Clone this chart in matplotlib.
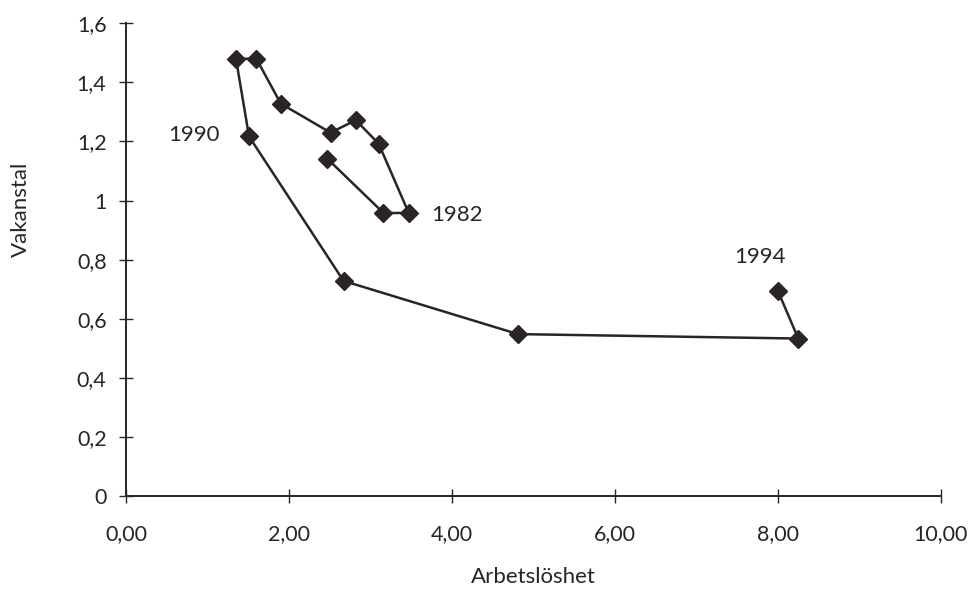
import matplotlib
matplotlib.use('Agg')
import matplotlib.pyplot as plt

# Beveridge curve data, Sweden 1981-1994
arbetsloshet = [2.47, 3.16, 3.47, 3.10, 2.82, 2.51, 1.90, 1.60, 1.35, 1.51, 2.67, 4.81, 8.25, 8.00]
vakanstal = [1.142, 0.958, 0.958, 1.193, 1.272, 1.230, 1.328, 1.480, 1.480, 1.217, 0.728, 0.548, 0.533, 0.694]

year_labels = ['1982', '1990', '1994']
label_x = [4.06, 0.83, 7.78]
label_y = [0.952, 1.223, 0.81]

x_ticks = [0, 2, 4, 6, 8, 10]
x_ticklabels = ['0,00', '2,00', '4,00', '6,00', '8,00', '10,00']
y_ticks = [0, 0.2, 0.4, 0.6, 0.8, 1.0, 1.2, 1.4, 1.6]
y_ticklabels = ['0', '0,2', '0,4', '0,6', '0,8', '1', '1,2', '1,4', '1,6']

plt.rcParams['font.family'] = ['Lato', 'DejaVu Sans']
ink = '#2b2424'

fig = plt.figure(figsize=(9.69, 5.9), dpi=100)
ax = fig.add_axes([0.130, 0.1593, 0.841, 0.8012])

ax.plot(arbetsloshet, vakanstal, color=ink, linewidth=1.8,
        marker='D', markersize=8.8, markerfacecolor=ink, markeredgecolor=ink)

for txt, lx, ly in zip(year_labels, label_x, label_y):
    ax.text(lx, ly, txt, fontsize=16, color=ink, ha='center', va='center')

ax.set_xlim(0, 10)
ax.set_ylim(0, 1.6)
ax.set_xticks(x_ticks)
ax.set_xticklabels(x_ticklabels)
ax.set_yticks(y_ticks)
ax.set_yticklabels(y_ticklabels)

for side in ['top', 'right']:
    ax.spines[side].set_visible(False)
for side in ['left', 'bottom']:
    ax.spines[side].set_linewidth(1.4)
    ax.spines[side].set_color(ink)

ax.tick_params(direction='inout', length=10, width=1, colors=ink, labelsize=15.5)
ax.tick_params(axis='y', pad=9)
ax.tick_params(axis='x', pad=15)

ax.set_xlabel('Arbetslöshet', fontsize=16, color=ink, va='center')
ax.xaxis.set_label_coords(0.5, -0.171)
ax.set_ylabel('Vakanstal', fontsize=16, color=ink, va='center')
ax.yaxis.set_label_coords(-0.129, 0.606)

fig.savefig('out.png', dpi=100)
